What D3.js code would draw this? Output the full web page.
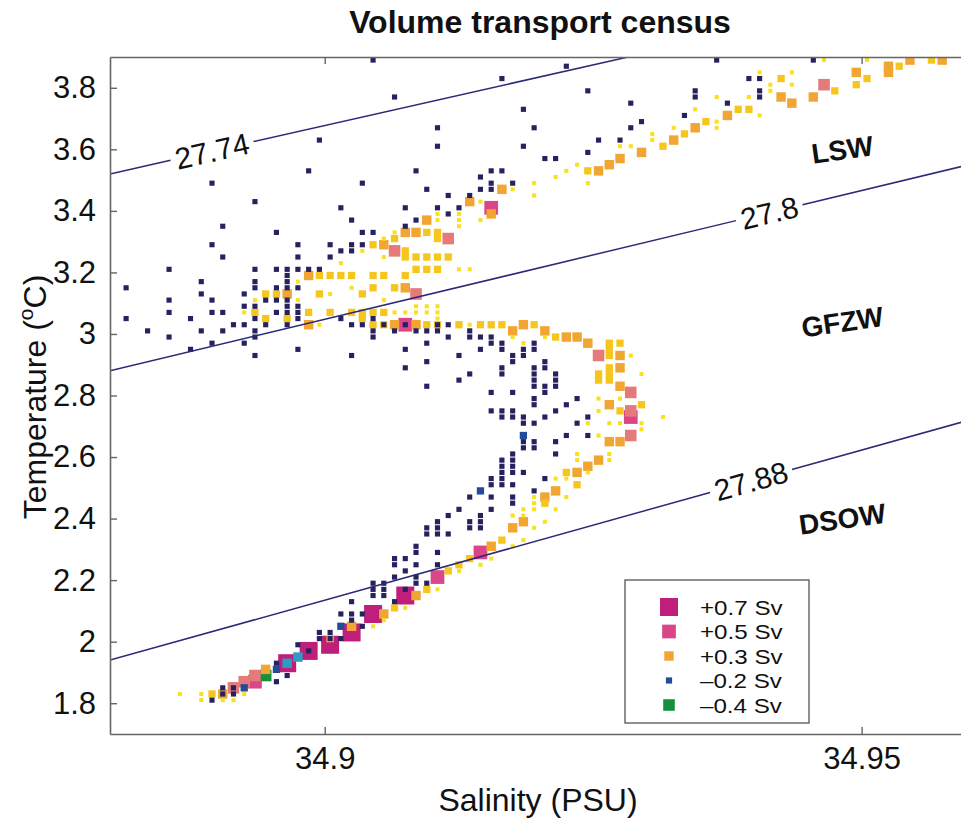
<!DOCTYPE html>
<html>
<head>
<meta charset="utf-8">
<script src="https://cdn.jsdelivr.net/npm/d3@7"></script>
<style>
  body { margin: 0; background: #fff; }
  svg { display: block; font-family: "Liberation Sans", Arial, Helvetica, sans-serif; }
</style>
</head>
<body>
<svg id="chart" width="961" height="822"></svg>
<script>
// ---- data (salinity PSU, potential temperature degC) ----
const xTicks = [34.9, 34.95];
const yTicks = [1.8, 2, 2.2, 2.4, 2.6, 2.8, 3, 3.2, 3.4, 3.6, 3.8];

// isopycnals, as straight segments between two salinities
const isoLabels = ["27.74", "27.8", "27.88"];
const isoSalt = [34.88, 34.96];
const isoTempStart = [3.52, 2.88, 1.94];
const isoTempEnd = [4.15, 3.55, 2.72];

const waterMasses = ["LSW", "GFZW", "DSOW"];

const legendValues = [0.7, 0.5, 0.3, -0.2, -0.4];
const legendLabels = ["+0.7 Sv", "+0.5 Sv", "+0.3 Sv", "\u20130.2 Sv", "\u20130.4 Sv"];

// transport of each class (Sv)
const classValues = [-0.1, -0.2, -0.3, -0.4, 0.05, 0.2, 0.3, 0.4, 0.5, 0.7];

const ptsNeg01 = [
  [34.8815,3.15],[34.8815,3.05],[34.8835,3.01],
  [34.8855,3.21],[34.8855,3.11],[34.8855,3.07],[34.8855,2.99],
  [34.8875,3.05],[34.8875,2.95],
  [34.8885,3.17],[34.8885,3.13],[34.8885,3.01],
  [34.8895,3.49],[34.8895,3.29],[34.8895,3.11],[34.8895,3.07],[34.8895,2.97],
  [34.8905,3.35],[34.8905,3.25],[34.8905,3.07],[34.8905,3.01],
  [34.8915,3.03],
  [34.8925,3.13],[34.8925,3.09],[34.8925,3.03],[34.8925,2.97],
  [34.8935,3.43],[34.8935,3.21],[34.8935,3.17],[34.8935,3.15],[34.8935,3.09],[34.8935,3.05],[34.8935,3.01],[34.8935,2.99],[34.8935,2.93],
  [34.8945,3.11],[34.8945,3.03],
  [34.8955,3.33],[34.8955,3.21],[34.8955,3.15],[34.8955,3.11],[34.8955,3.07],
  [34.8965,3.21],[34.8965,3.19],[34.8965,3.17],[34.8965,3.15],[34.8965,3.11],[34.8965,3.09],[34.8965,3.07],[34.8965,3.03],
  [34.8975,3.29],[34.8975,3.25],[34.8975,3.21],[34.8975,3.15],[34.8975,3.09],[34.8975,3.07],[34.8975,3.05],[34.8975,2.95],
  [34.8985,3.53],[34.8985,3.21],[34.8995,3.63],[34.8995,3.21],
  [34.9005,3.29],[34.9005,3.25],
  [34.9015,3.41],[34.9015,3.27],[34.9015,3.05],
  [34.9025,3.37],[34.9025,3.29],[34.9025,3.27],[34.9025,3.03],[34.9025,2.93],
  [34.9035,3.49],[34.9035,3.33],[34.9035,3.29],[34.9035,3.03],
  [34.9045,3.89],[34.9045,3.33],[34.9045,3.05],[34.9045,3.01],[34.9045,2.99],
  [34.9055,3.03],[34.9065,3.77],[34.9065,3.01],
  [34.9075,3.41],[34.9075,3.35],[34.9075,3.03],[34.9075,2.95],[34.9075,2.89],
  [34.9085,3.53],[34.9085,3.37],[34.9085,3.01],
  [34.9095,3.47],[34.9095,3.01],[34.9095,2.97],[34.9095,2.91],[34.9095,2.83],
  [34.9105,3.67],[34.9105,3.61],[34.9105,3.41],[34.9105,3.03],[34.9105,3.01],
  [34.9115,3.45],[34.9115,3.39],[34.9115,3.03],[34.9115,2.99],
  [34.9125,3.41],[34.9125,2.93],[34.9125,2.85],
  [34.9135,3.45],[34.9135,3.01],[34.9135,2.99],[34.9135,2.87],
  [34.9145,3.51],[34.9145,3.47],[34.9145,2.99],[34.9145,2.95],
  [34.9155,3.53],[34.9155,3.49],[34.9155,3.47],[34.9155,2.99],[34.9155,2.97],[34.9155,2.81],[34.9155,2.75],
  [34.9165,3.83],[34.9165,3.53],[34.9165,2.97],[34.9165,2.95],[34.9165,2.89],[34.9165,2.87],[34.9165,2.75],[34.9165,2.73],
  [34.9175,3.49],[34.9175,2.93],[34.9175,2.91],[34.9175,2.81],[34.9175,2.75],[34.9175,2.73],
  [34.9185,3.73],[34.9185,3.61],[34.9185,2.95],[34.9185,2.93],[34.9185,2.73],[34.9185,2.71],[34.9185,2.65],[34.9185,2.63],
  [34.9195,3.67],[34.9195,2.97],[34.9195,2.95],[34.9195,2.89],[34.9195,2.87],[34.9195,2.85],[34.9195,2.83],[34.9195,2.79],[34.9195,2.77],[34.9195,2.71],[34.9195,2.65],[34.9195,2.63],
  [34.9205,3.57],[34.9205,2.91],[34.9205,2.89],[34.9205,2.83],[34.9205,2.81],[34.9205,2.73],
  [34.9215,3.57],[34.9215,2.87],[34.9215,2.85],[34.9215,2.83],[34.9215,2.75],[34.9215,2.65],[34.9215,2.61],
  [34.9225,3.87],[34.9225,2.77],[34.9225,2.67],
  [34.9235,2.79],[34.9235,2.71],
  [34.9245,3.79],[34.9245,3.59],[34.9245,2.73],[34.9245,2.67],
  [34.9255,3.63],[34.9275,3.63],[34.9285,3.75],[34.9285,3.67],[34.9295,3.69],
  [34.9335,3.71],[34.9345,3.79],[34.9345,3.77],[34.9365,3.89],[34.9375,3.75],
  [34.9395,3.83],[34.9405,3.83],[34.9405,3.79],[34.9405,3.77],[34.9455,3.89],
  [34.9195,2.49],[34.9205,2.53],[34.9185,2.55],
  [34.9175,2.61],[34.9175,2.59],[34.9175,2.57],[34.9175,2.55],[34.9175,2.51],[34.9175,2.47],[34.9175,2.45],
  [34.9165,2.59],[34.9165,2.57],[34.9165,2.55],[34.9165,2.53],[34.9165,2.51],
  [34.9155,2.53],[34.9155,2.51],[34.9155,2.47],[34.9155,2.43],
  [34.9145,2.41],[34.9145,2.39],[34.9145,2.37],
  [34.9135,2.47],[34.9135,2.39],[34.9135,2.37],
  [34.9125,2.43],[34.9115,2.41],[34.9115,2.35],
  [34.9105,2.39],[34.9105,2.37],[34.9105,2.35],[34.9105,2.29],[34.9105,2.25],
  [34.9095,2.37],[34.9095,2.35],[34.9095,2.19],
  [34.9085,2.31],[34.9085,2.29],[34.9085,2.25],[34.9085,2.21],[34.9085,2.19],
  [34.9075,2.27],[34.9075,2.23],[34.9075,2.17],
  [34.9065,2.27],[34.9065,2.25],[34.9065,2.21],[34.9065,2.13],
  [34.9055,2.19],[34.9055,2.17],[34.9055,2.15],
  [34.9045,2.19],[34.9045,2.17],[34.9045,2.15],
  [34.9035,2.09],[34.9035,2.05],
  [34.9025,2.13],[34.9025,2.09],[34.9025,2.07],
  [34.9015,2.09],[34.9015,2.01],
  [34.9005,2.03],[34.9005,2.01],[34.8995,2.03],[34.8995,2.01],
  [34.8985,1.97],[34.8975,1.99],
  [34.8965,1.89],[34.8955,1.93],[34.8955,1.87],
  [34.8915,1.85],[34.8915,1.83],[34.8905,1.85],[34.8905,1.83],[34.8895,1.81]
];
const ptsNeg02 = [[34.8925,1.85],[34.8955,1.91],[34.9015,2.05],[34.9145,2.49],[34.9185,2.67]];
const ptsNeg03 = [[34.8965,1.93],[34.8975,1.95]];
const ptsNeg04 = [[34.8945,1.89]];

const ptsPos005 = [
  [34.8865,1.83],[34.8885,1.83],[34.8885,1.81],[34.8905,1.81],[34.8915,1.81],[34.8925,1.83],
  [34.9045,2.05],[34.9055,2.07],[34.9075,2.11],[34.9105,2.17],[34.9125,2.23],[34.9145,2.25],[34.9155,2.27],
  [34.9175,2.31],[34.9185,2.33],[34.9195,2.37],[34.9205,2.39],[34.9215,2.43],[34.9225,2.47],[34.9245,2.55],
  [34.9175,2.41],[34.9185,2.43],[34.9185,2.41],[34.9195,2.47],[34.9195,2.45],[34.9195,2.43],[34.9225,2.53],
  [34.9215,2.53],[34.9235,2.61],[34.9235,2.59],[34.9265,2.61],[34.9265,2.59],[34.9255,2.67],[34.9245,2.71],
  [34.9265,2.71],[34.9275,2.71],[34.9295,2.71],[34.9295,2.69],[34.9315,2.73],[34.9255,2.75],[34.9255,2.79],
  [34.9275,2.79],[34.9295,2.87],[34.9285,2.93],[34.9175,2.99],[34.9205,2.99],[34.9185,2.97],[34.9135,3.03],
  [34.8925,3.07],[34.8935,3.11],[34.8975,3.17],[34.8975,3.11],[34.8995,3.03],[34.9005,3.13],[34.9025,3.15],
  [34.9055,3.11],[34.9065,3.07],[34.9075,3.07],[34.9085,3.07],[34.9085,3.09],[34.9095,3.09],[34.9095,3.07],
  [34.9105,3.09],[34.9105,3.07],[34.9105,3.05],[34.9015,3.23],[34.9035,3.27],[34.9055,3.31],[34.9065,3.33],
  [34.9055,3.25],[34.9105,3.37],[34.9105,3.39],[34.9125,3.39],[34.9125,3.37],[34.9125,3.35],[34.9125,3.21],
  [34.9135,3.21],[34.9145,3.43],[34.9145,3.37],[34.9175,3.47],
  [34.9195,3.49],[34.9195,3.45],[34.9215,3.51],[34.9225,3.53],[34.9235,3.55],[34.9245,3.49],[34.9275,3.61],
  [34.9285,3.61],[34.9305,3.65],[34.9305,3.63],[34.9325,3.67],[34.9345,3.73],[34.9365,3.69],[34.9365,3.67],
  [34.9365,3.77],[34.9405,3.71],[34.9395,3.77],[34.9415,3.81],[34.9415,3.79],[34.9435,3.85],[34.9435,3.81],
  [34.9405,3.85],[34.9465,3.89],[34.9505,3.89]
];
const ptsPos02 = [
  [34.8895,1.83],[34.9005,2.01],[34.9065,2.11],[34.9095,2.17],[34.9115,2.23],[34.9125,2.25],[34.9135,2.27],
  [34.9165,2.33],[34.9225,2.55],[34.9235,2.51],[34.9205,2.45],[34.9255,2.87],[34.9255,2.85],[34.9265,2.97],
  [34.9265,2.95],[34.9265,2.93],[34.9275,2.97],[34.9265,2.89],[34.9265,2.87],[34.9265,2.85],[34.9295,2.77],
  [34.9275,2.75],[34.9215,2.99],[34.9195,3.03],[34.9165,3.03],[34.9155,3.03],[34.9145,3.03],[34.9125,3.03],
  [34.9105,3.03],[34.9095,3.03],[34.9045,3.03],[34.9055,3.03],
  [34.8945,3.05],[34.8965,3.05],[34.9035,3.05],
  [34.8935,3.07],[34.8985,3.07],[34.9005,3.07],[34.9025,3.07],[34.9035,3.07],[34.9045,3.07],[34.9055,3.07],
  [34.8945,3.13],[34.8955,3.13],[34.8995,3.13],[34.9035,3.13],
  [34.9045,3.15],[34.9065,3.15],
  [34.8995,3.19],[34.9005,3.19],[34.9015,3.19],[34.9025,3.19],[34.9045,3.19],[34.9055,3.19],[34.9075,3.19],
  [34.9085,3.21],[34.9095,3.21],[34.9105,3.21],
  [34.9075,3.25],[34.9085,3.25],[34.9095,3.25],[34.9105,3.25],[34.9115,3.25],
  [34.9075,3.27],[34.9045,3.29],[34.9065,3.31],[34.9105,3.31],[34.9095,3.33],[34.9105,3.33],
  [34.9245,3.53],[34.9315,3.61],[34.9335,3.65],[34.9355,3.69],[34.9385,3.73],[34.9395,3.73],[34.9425,3.83],
  [34.9475,3.79],[34.9495,3.81],[34.9505,3.83],[34.9535,3.87],[34.9565,3.89]
];
const ptsPos03 = [
  [34.8905,1.83],[34.8945,1.91],[34.9025,2.05],[34.9055,2.09],[34.9085,2.15],
  [34.9155,2.31],[34.9175,2.37],[34.9185,2.39],[34.9205,2.47],[34.9215,2.49],[34.9235,2.55],[34.9245,2.57],
  [34.9255,2.59],[34.9265,2.65],[34.9275,2.65],[34.9265,2.77],[34.9275,2.83],[34.9275,2.89],[34.9275,2.93],
  [34.9245,2.97],[34.9235,2.99],[34.9225,2.99],[34.9205,3.01],[34.9185,3.03],[34.9175,3.01],[34.9085,3.03],
  [34.9065,3.03],[34.8985,3.03],
  [34.8965,3.13],[34.8985,3.19],[34.9075,3.15],[34.9055,3.29],[34.9075,3.33],[34.9085,3.33],[34.9095,3.37],
  [34.9135,3.43],[34.9155,3.39],[34.9165,3.47],
  [34.9255,3.53],[34.9265,3.55],[34.9275,3.57],[34.9295,3.59],[34.9325,3.63],[34.9345,3.67],[34.9375,3.71],
  [34.9425,3.77],[34.9435,3.75],[34.9455,3.77],[34.9495,3.85],[34.9525,3.85],[34.9525,3.87],[34.9545,3.89],
  [34.9575,3.89]
];
const ptsPos04 = [
  [34.8915,1.85],[34.8925,1.87],[34.8935,1.89],[34.9065,3.27],[34.9115,3.31],[34.9085,3.13],
  [34.9255,2.93],[34.9285,2.81],[34.9285,2.75],[34.9285,2.67],[34.9465,3.81]
];
const ptsPos05 = [[34.8935,1.87],[34.9105,2.21],[34.9145,2.29],[34.9155,3.41],[34.9075,3.03],[34.9285,2.73]];
const ptsPos07 = [[34.8965,1.93],[34.8985,1.97],[34.9005,1.99],[34.9025,2.03],[34.9045,2.09],[34.9075,2.15]];

const classPoints = [ptsNeg01, ptsNeg02, ptsNeg03, ptsNeg04, ptsPos005, ptsPos02, ptsPos03, ptsPos04, ptsPos05, ptsPos07];

// ---- layout ----
const W = 961, H = 822;
const plot = {left: 110, top: 57, right: 969, bottom: 734};
const font = '"Liberation Sans", Arial, Helvetica, sans-serif';

const x = d3.scaleLinear().domain([34.88, 34.96]).range([plot.left, plot.right]);
const y = d3.scaleLinear().domain([1.7, 3.9]).range([plot.bottom, plot.top]);

const color = d3.scaleThreshold()
  .domain([-0.35, -0.25, -0.15, 0, 0.1, 0.25, 0.35, 0.45, 0.6])
  .range(["#17903d", "#2c9dc3", "#214c99", "#26215f", "#f9e023", "#f6c61c", "#f1a533", "#e47b7a", "#db4688", "#bf1f7b"]);
const side = d3.scaleLinear().domain([0, 0.7]).range([3, 18]);

const svg = d3.select("#chart");
svg.append("rect").attr("width", W).attr("height", H).attr("fill", "#fff");

svg.append("defs").append("clipPath").attr("id", "plotClip").append("rect")
  .attr("x", plot.left).attr("y", plot.top)
  .attr("width", plot.right - plot.left).attr("height", plot.bottom - plot.top);

const inner = svg.append("g").attr("clip-path", "url(#plotClip)");

// points, biggest first so the small ones stay visible
const points = classPoints.flatMap((pts, i) => pts.map(p => ({s: p[0], t: p[1], v: classValues[i]})))
  .sort((a, b) => Math.abs(b.v) - Math.abs(a.v));

inner.append("g").selectAll("rect")
  .data(points)
  .join("rect")
    .attr("x", d => x(d.s) - side(Math.abs(d.v)) / 2)
    .attr("y", d => y(d.t) - side(Math.abs(d.v)) / 2)
    .attr("width", d => side(Math.abs(d.v)))
    .attr("height", d => side(Math.abs(d.v)))
    .attr("fill", d => color(d.v));

// isopycnals with an inline label
const labelSalt = [34.8895, 34.9414, 34.9397];
isoLabels.forEach((lab, i) => {
  const x0 = x(isoSalt[0]), y0 = y(isoTempStart[i]);
  const x1 = x(isoSalt[1]), y1 = y(isoTempEnd[i]);
  const len = Math.hypot(x1 - x0, y1 - y0);
  const ux = (x1 - x0) / len, uy = (y1 - y0) / len;
  const f = (labelSalt[i] - isoSalt[0]) / (isoSalt[1] - isoSalt[0]);
  const cx = x0 + f * (x1 - x0), cy = y0 + f * (y1 - y0);
  const ang = Math.atan2(y1 - y0, x1 - x0) * 180 / Math.PI;

  const txt = svg.append("text")
    .attr("transform", `translate(${cx},${cy}) rotate(${ang})`)
    .attr("text-anchor", "middle")
    .attr("dy", "0.36em")
    .attr("font-family", font)
    .attr("font-size", 30)
    .attr("fill", "#111")
    .text(lab);
  const half = txt.node().getComputedTextLength() / 2 + 5;

  inner.append("line")
    .attr("x1", x0).attr("y1", y0)
    .attr("x2", cx - ux * half).attr("y2", cy - uy * half)
    .attr("stroke", "#2b2a78").attr("stroke-width", 1.5);
  inner.append("line")
    .attr("x1", cx + ux * half).attr("y1", cy + uy * half)
    .attr("x2", x1).attr("y2", y1)
    .attr("stroke", "#2b2a78").attr("stroke-width", 1.5);
});

// water mass names
const massSalt = [34.9482, 34.9482, 34.9482];
const massTemp = [3.60, 3.04, 2.40];
waterMasses.forEach((m, i) => {
  svg.append("text")
    .attr("transform", `translate(${x(massSalt[i])},${y(massTemp[i])}) rotate(-8)`)
    .attr("text-anchor", "middle")
    .attr("dy", "0.36em")
    .attr("font-family", font)
    .attr("font-weight", "bold")
    .attr("font-size", 28)
    .attr("fill", "#111")
    .text(m);
});

// axes
function styleAxis(g) {
  g.attr("font-family", font).attr("font-size", 31);
  g.selectAll(".domain").attr("stroke", "#666").attr("stroke-width", 1.6);
  g.selectAll(".tick line").attr("stroke", "#666").attr("stroke-width", 1.4);
  g.selectAll(".tick text").attr("fill", "#111");
}

svg.append("g")
  .attr("transform", `translate(0,${plot.bottom})`)
  .call(d3.axisBottom(x).tickValues(xTicks).tickFormat(d3.format("")).tickSize(-7).tickSizeOuter(0).tickPadding(13))
  .call(styleAxis);

svg.append("g")
  .attr("transform", `translate(0,${plot.top})`)
  .call(d3.axisTop(x).tickValues(xTicks).tickFormat("").tickSize(-7).tickSizeOuter(0))
  .call(styleAxis);

svg.append("g")
  .attr("transform", `translate(${plot.left},0)`)
  .call(d3.axisLeft(y).tickValues(yTicks).tickFormat(d3.format("")).tickSize(-7).tickSizeOuter(0).tickPadding(14))
  .call(styleAxis);

// titles
svg.append("text")
  .attr("x", 540).attr("y", 33)
  .attr("text-anchor", "middle")
  .attr("font-family", font).attr("font-weight", "bold").attr("font-size", 32)
  .attr("fill", "#111")
  .text("Volume transport census");

svg.append("text")
  .attr("x", 538).attr("y", 811)
  .attr("text-anchor", "middle")
  .attr("font-family", font).attr("font-size", 32)
  .attr("fill", "#111")
  .text("Salinity (PSU)");

const yTitle = svg.append("text")
  .attr("transform", "translate(46,397) rotate(-90)")
  .attr("text-anchor", "middle")
  .attr("font-family", font).attr("font-size", 32)
  .attr("fill", "#111");
yTitle.append("tspan").text("Temperature (");
yTitle.append("tspan").attr("dy", -13).attr("font-size", 21).text("o");
yTitle.append("tspan").attr("dy", 13).text("C)");

// legend
const lg = svg.append("g");
lg.append("rect")
  .attr("x", 625).attr("y", 580).attr("width", 184).attr("height", 143)
  .attr("fill", "#fff").attr("stroke", "#555").attr("stroke-width", 1.3);
const rowY = d3.scalePoint().domain(legendLabels).range([607, 705]);
legendValues.forEach((v, i) => {
  const s = side(Math.abs(v)) * (v === -0.2 ? 0.85 : 1);
  const cy = rowY(legendLabels[i]);
  lg.append("rect")
    .attr("x", 669 - s / 2).attr("y", cy - s / 2)
    .attr("width", s).attr("height", s)
    .attr("fill", color(v));
  const t = lg.append("text")
    .attr("x", 700).attr("y", cy).attr("dy", "0.36em")
    .attr("font-family", font).attr("font-size", 21)
    .attr("fill", "#111")
    .text(legendLabels[i]);
  // widen glyphs a little to match the original's broad legend lettering
  t.attr("textLength", t.node().getComputedTextLength() * 1.15)
   .attr("lengthAdjust", "spacingAndGlyphs");
});
</script>
</body>
</html>
